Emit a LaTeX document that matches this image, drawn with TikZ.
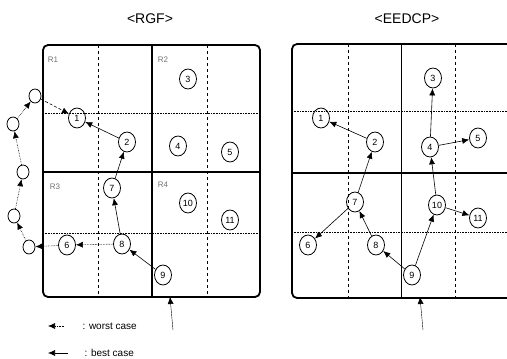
\documentclass[tikz,border=0pt]{standalone}
\usepackage{fontspec}
\setmainfont{Liberation Sans}
\usetikzlibrary{arrows.meta,shapes.geometric}

\tikzset{
  sensor/.style = {draw, thick, ellipse, inner sep=0pt, minimum width=17pt, minimum height=20pt, font=\small},
  void/.style = {draw, thick, ellipse, inner sep=0pt, minimum width=12pt, minimum height=14pt},
  best/.style = {-{Latex[length=7pt,width=6pt]}, semithick},
  worst/.style = {-{Latex[length=7pt,width=6pt]}, semithick, densely dotted},
  frame/.style = {line width=1.8pt, rounded corners=5pt},
  region/.style = {line width=1.3pt},
  cellv/.style = {dashed, semithick},
  cellh/.style = {densely dotted, semithick},
  rname/.style = {font=\footnotesize, text=black!55},
  title/.style = {font=\fontsize{14}{16}\selectfont}
}

\begin{document}
\begin{tikzpicture}[x=1pt, y=-1pt]
\clip (0,0) rectangle (507,359);

% titles
\node[title] (trgf) at (150,19) {<RGF>};
\node[title] (teedcp) at (407,19) {<EEDCP>};

% RGF panel
\draw[frame] (43,45) rectangle (260,297);
\draw[cellv] (98,45) -- (98,297);
\draw[cellv] (207,45) -- (207,297);
\draw[cellh] (43,113) -- (260,113);
\draw[cellh] (43,233) -- (260,233);
\draw[region] (152,45) -- (152,297);
\draw[region] (43,172) -- (260,172);

\node[rname] (r1) at (53,60) {R1};
\node[rname] (r2) at (163,60) {R2};
\node[rname] (r3) at (55,187) {R3};
\node[rname] (r4) at (163,185) {R4};

\node[sensor] (g1) at (77,118) {1};
\node[sensor] (g2) at (127,142) {2};
\node[sensor] (g3) at (188,79) {3};
\node[sensor] (g4) at (178,146) {4};
\node[sensor] (g5) at (230,152) {5};
\node[sensor] (g6) at (67,245) {6};
\node[sensor] (g7) at (112,188) {7};
\node[sensor] (g8) at (122,244) {8};
\node[sensor] (g9) at (163,275) {9};
\node[sensor] (g10) at (188,203) {10};
\node[sensor] (g11) at (230,220) {11};

% void border
\node[void] (c1) at (35,96) {};
\node[void] (c2) at (13,124) {};
\node[void] (c3) at (23,172) {};
\node[void] (c4) at (14,216) {};
\node[void] (c5) at (29,247) {};

\coordinate (gin) at (173,330);
\coordinate (gbot) at (170,297);
\draw[best, thin] (gin) -- (gbot);

\draw[best] (g9) -- (g8);
\draw[best] (g8) -- (g7);
\draw[best] (g7) -- (g2);
\draw[best] (g2) -- (g1);
\draw[worst] (g8) -- (g6);
\draw[worst] (g6) -- (c5);
\draw[worst] (c5) -- (c4);
\draw[worst] (c4) -- (c3);
\draw[worst] (c3) -- (c2);
\draw[worst] (c2) -- (c1);
\draw[worst, densely dashed] (c1) -- (g1);

% EEDCP panel
\draw[frame] (292,44) rectangle (514,298);
\draw[cellv] (348,44) -- (348,298);
\draw[cellv] (455,44) -- (455,298);
\draw[cellh] (292,111) -- (514,111);
\draw[cellh] (292,232) -- (514,232);
\draw[thin] (401,44) -- (401,298);
\draw[region] (292,173) -- (514,173);

\node[sensor] (e1) at (321,118) {1};
\node[sensor] (e2) at (375,142) {2};
\node[sensor] (e3) at (433,78) {3};
\node[sensor] (e4) at (430,147) {4};
\node[sensor] (e5) at (478,138) {5};
\node[sensor] (e6) at (308,245) {6};
\node[sensor] (e7) at (355,202) {7};
\node[sensor] (e8) at (376,245) {8};
\node[sensor] (e9) at (412,275) {9};
\node[sensor] (e10) at (437,205) {10};
\node[sensor] (e11) at (478,218) {11};

\coordinate (ein) at (423,330);
\coordinate (ebot) at (420,297);
\draw[best, thin] (ein) -- (ebot);

\draw[best] (e9) -- (e8);
\draw[best] (e8) -- (e7);
\draw[best] (e7) -- (e6);
\draw[best] (e7) -- (e2);
\draw[best] (e2) -- (e1);
\draw[best] (e9) -- (e10);
\draw[best] (e10) -- (e11);
\draw[best] (e10) -- (e4);
\draw[best] (e4) -- (e3);
\draw[best] (e4) -- (e5);

% legend
\coordinate (w0) at (48,326);
\coordinate (w1) at (64,326);
\coordinate (b0) at (48,353);
\coordinate (b1) at (68,353);
\draw[worst] (w1) -- (w0);
\draw[best] (b1) -- (b0);
\node[anchor=west] (lworst) at (79,326) {: worst case};
\node[anchor=west] (lbest) at (81,353) {: best case};
\end{tikzpicture}
\end{document}
